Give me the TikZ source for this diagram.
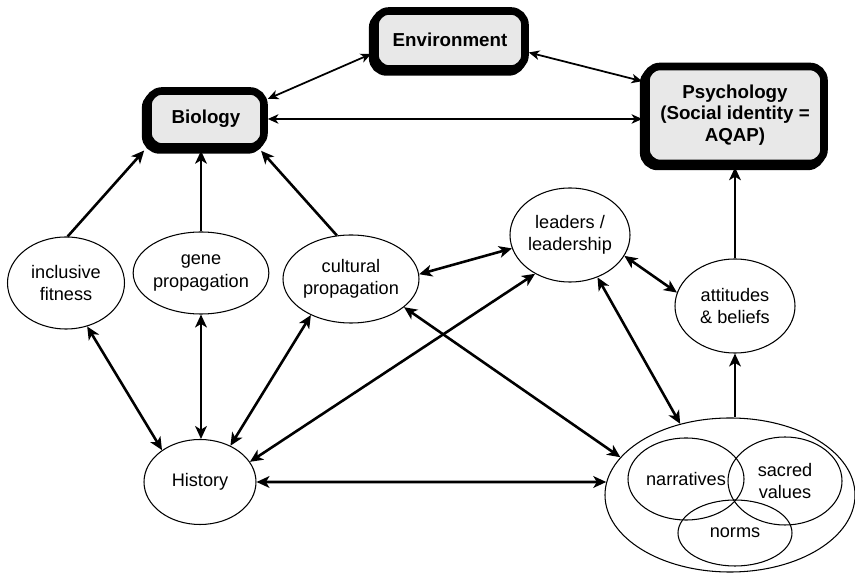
\documentclass[tikz,border=0pt]{standalone}
\usepackage{fontspec}
\setmainfont{Liberation Sans}
\usetikzlibrary{arrows.meta,shapes.geometric,shadows}

\begin{document}
\begin{tikzpicture}[x=0.03cm, y=-0.03cm,
    box/.style={draw, line width=6.5pt, rounded corners=12pt, fill=black!9, inner sep=0pt, align=center, font=\fontsize{16}{18.5}\selectfont\bfseries,
        general shadow={draw=black, fill=black, line width=6.5pt, shadow xshift=-2pt, shadow yshift=-2.5pt}},
    oval/.style={draw, ellipse, line width=0.9pt, inner sep=0pt, align=center, font=\fontsize{15.5}{19}\selectfont},
    link/.style={{Stealth[length=9pt, width=8pt, inset=2.5pt]}-{Stealth[length=9pt, width=8pt, inset=2.5pt]}, line width=1.5pt},
    arr/.style={{Stealth[length=11pt, width=10pt, inset=3pt]}-{Stealth[length=11pt, width=10pt, inset=3pt]}, line width=2.2pt},
    tip/.style={-{Stealth[length=11pt, width=10pt, inset=3pt]}, line width=2.2pt}
]
\useasboundingbox (0,0) rectangle (855,573);

\node[box, minimum width=4.5cm, minimum height=1.74cm] (env) at (450,40) {Environment};
\node[box, minimum width=3.48cm, minimum height=1.68cm] (bio) at (206,119) {Biology};
\node[box, minimum width=5.34cm, minimum height=2.91cm] (psy) at (735,115) {Psychology\\(Social identity =\\AQAP)};

\node[oval, minimum width=3.51cm, minimum height=2.76cm] (incl) at (66,283) {inclusive\\fitness};
\node[oval, minimum width=4.02cm, minimum height=2.46cm] (gene) at (201,273) {gene\\propagation};
\node[oval, minimum width=4.08cm, minimum height=2.64cm] (cult) at (351,279) {cultural\\propagation};
\node[oval, minimum width=3.6cm, minimum height=2.82cm] (lead) at (570,235) {leaders /\\leadership};
\node[oval, minimum width=3.6cm, minimum height=2.82cm] (att) at (735,306) {attitudes\\\& beliefs};
\node[oval, minimum width=3.36cm, minimum height=2.55cm] (hist) at (200,482) {History};

\node[oval, minimum width=7.5cm, minimum height=4.62cm] (big) at (730,495) {};
\node[oval, minimum width=3.48cm, minimum height=2.46cm] (narr) at (686,479) {narratives};
\node[oval, minimum width=3.42cm, minimum height=2.64cm] (sacred) at (785,481) {sacred\\values};
\node[oval, minimum width=3.42cm, minimum height=1.98cm] (norms) at (735,533) {norms};

\draw[link] (bio.18) -- (env.190);
\draw[link] (env.-9.5) -- (psy.160);
\draw[link] (bio.east) -- (bio.east -| psy.west);

\draw[tip] (incl.88) -- (bio.207);
\draw[tip] (gene.north) -- (gene.north |- bio.south);
\draw[tip] (cult.108) -- (bio.-30);

\draw[arr] (incl.-64) -- (hist.140);
\draw[arr] (gene.south) -- (gene.south |- hist.north);
\draw[arr] (cult.222) -- (hist.50);
\draw[arr] (hist.22) -- (lead.228);
\draw[arr] (cult.4) -- (lead.193);
\draw[arr] (hist.east) -- (big.174);
\draw[arr] (cult.-28) -- (big.161);
\draw[arr] (lead.-57) -- (big.125);
\draw[arr] (lead.-21) -- (att.167);

\draw[tip] (att.south |- big.north) -- (att.south);
\draw[tip] (att.north) -- (att.north |- psy.south);
\end{tikzpicture}
\end{document}
